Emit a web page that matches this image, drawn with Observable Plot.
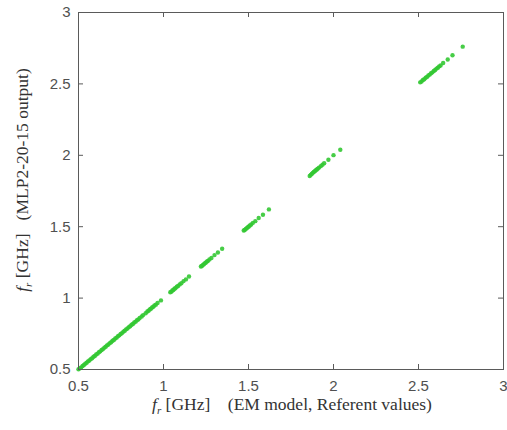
<!DOCTYPE html>
<html>
<head>
<meta charset="utf-8">
<script src="https://cdn.jsdelivr.net/npm/d3@7"></script>
<script src="https://cdn.jsdelivr.net/npm/@observablehq/plot@0.6"></script>
<style>
  html, body { margin: 0; padding: 0; background: #fff; }
  #chart { width: 507px; height: 430px; }
</style>
</head>
<body>
<div id="chart"></div>
<script>
// Tick values
const xTicks = [0.5, 1, 1.5, 2, 2.5, 3];
const yTicks = [0.5, 1, 1.5, 2, 2.5, 3];

// Referent (EM model) resonant frequencies, GHz
const emRef = [
  0.500,0.508,0.516,0.524,0.532,0.540,0.548,0.556,0.564,0.572,0.580,0.588,0.596,0.604,0.612,0.620,
  0.628,0.636,0.644,0.652,0.660,0.668,0.676,0.684,0.692,0.700,0.708,0.716,0.724,0.732,0.740,0.748,
  0.756,0.764,0.772,0.780,0.788,0.796,0.804,0.812,0.820,0.828,0.836,0.844,0.852,0.860,
  0.872,0.880,0.895,0.905,0.912,0.919,0.926,0.933,0.940,0.947,0.955,0.965,0.985,
  1.040,1.046,1.052,1.058,1.064,1.070,1.078,1.086,1.095,1.105,1.118,1.132,1.150,
  1.220,1.226,1.232,1.238,1.244,1.250,1.256,1.262,1.270,1.282,1.300,1.320,1.345,
  1.472,1.478,1.484,1.490,1.496,1.502,1.508,1.516,1.526,1.540,1.560,1.585,1.620,
  1.860,1.866,1.872,1.878,1.884,1.890,1.896,1.902,1.908,1.915,1.925,1.935,1.945,1.970,2.000,2.040,
  2.510,2.518,2.526,2.534,2.542,2.550,2.558,2.566,2.574,2.582,2.590,2.598,2.606,2.614,2.622,2.630,
  2.645,2.672,2.700,2.760
];
// MLP2-20-15 output, GHz
const mlpOut = [
  0.502,0.509,0.515,0.525,0.531,0.541,0.547,0.557,0.563,0.573,0.579,0.589,0.595,0.605,0.611,0.621,
  0.627,0.637,0.643,0.653,0.659,0.669,0.675,0.685,0.691,0.701,0.707,0.717,0.723,0.733,0.739,0.749,
  0.755,0.765,0.771,0.781,0.787,0.797,0.803,0.813,0.819,0.829,0.835,0.845,0.851,0.861,
  0.871,0.881,0.894,0.906,0.911,0.920,0.925,0.934,0.939,0.948,0.954,0.966,0.984,
  1.041,1.045,1.053,1.057,1.065,1.069,1.079,1.085,1.096,1.104,1.119,1.131,1.151,
  1.221,1.225,1.233,1.237,1.245,1.249,1.257,1.261,1.271,1.281,1.301,1.319,1.346,
  1.473,1.477,1.485,1.489,1.497,1.501,1.509,1.515,1.527,1.539,1.561,1.584,1.621,
  1.855,1.863,1.869,1.877,1.883,1.889,1.895,1.901,1.907,1.914,1.924,1.934,1.944,1.969,2.001,2.039,
  2.511,2.517,2.527,2.533,2.543,2.549,2.559,2.565,2.575,2.581,2.591,2.597,2.607,2.613,2.623,2.629,
  2.646,2.671,2.701,2.761
];

const data = emRef.map((x, i) => ({x, y: mlpOut[i]}));

const axisColor = "#5a5a5a";
const tickFont = "Liberation Sans, Arial, sans-serif";
const W = 507, H = 430, mL = 78, mR = 4, mT = 12, mB = 61;
const innerW = W - mL - mR, innerH = H - mT - mB;
const tickLen = 5;

const plot = Plot.plot({
  width: W,
  height: H,
  marginLeft: mL,
  marginRight: mR,
  marginTop: mT,
  marginBottom: mB,
  style: {background: "#fff", fontFamily: tickFont, fontSize: "15px", color: "#505050"},
  x: {domain: [0.5, 3], axis: null},
  y: {domain: [0.5, 3], axis: null},
  marks: [
    Plot.dot(data, {x: "x", y: "y", r: 2.2, fill: "#33c833", fillOpacity: 0.9, stroke: "none"}),
    Plot.frame({stroke: axisColor, strokeWidth: 1}),
    // inward ticks on all four sides
    Plot.tickX(xTicks, {x: d => d, insetTop: innerH - tickLen, stroke: axisColor}),
    Plot.tickX(xTicks, {x: d => d, insetBottom: innerH - tickLen, stroke: axisColor}),
    Plot.tickY(yTicks, {y: d => d, insetRight: innerW - tickLen, stroke: axisColor}),
    Plot.tickY(yTicks, {y: d => d, insetLeft: innerW - tickLen, stroke: axisColor}),
    // tick labels
    Plot.axisX({anchor: "bottom", ticks: xTicks, tickSize: 0, tickPadding: 11, tickFormat: d => String(d), label: null, color: "#505050", fontSize: 15}),
    Plot.axisY({anchor: "left", ticks: yTicks, tickSize: 0, tickPadding: 8, tickFormat: d => String(d), label: null, color: "#505050", fontSize: 15})
  ]
});

document.getElementById("chart").appendChild(plot);

// Axis titles with subscript (real text)
const svg = d3.select(plot);
const serif = "Liberation Serif, Times New Roman, serif";

const xl = svg.append("text")
  .attr("x", 292).attr("y", 410)
  .attr("text-anchor", "middle")
  .attr("font-family", serif).attr("font-size", 17.5).attr("fill", "#333");
xl.append("tspan").attr("font-style", "italic").text("f");
xl.append("tspan").attr("font-style", "italic").attr("font-size", 11).attr("dy", 4).text("r");
xl.append("tspan").attr("dy", -4).text(" [GHz]\u00a0\u00a0\u00a0\u00a0(EM model, Referent values)");

const yl = svg.append("text")
  .attr("transform", "translate(28,180) rotate(-90)")
  .attr("text-anchor", "middle")
  .attr("font-family", serif).attr("font-size", 17.5).attr("fill", "#333");
yl.append("tspan").attr("font-style", "italic").text("f");
yl.append("tspan").attr("font-style", "italic").attr("font-size", 11).attr("dy", 4).text("r");
yl.append("tspan").attr("dy", -4).text(" [GHz]\u00a0\u00a0\u00a0(MLP2-20-15 output)");
</script>
</body>
</html>
